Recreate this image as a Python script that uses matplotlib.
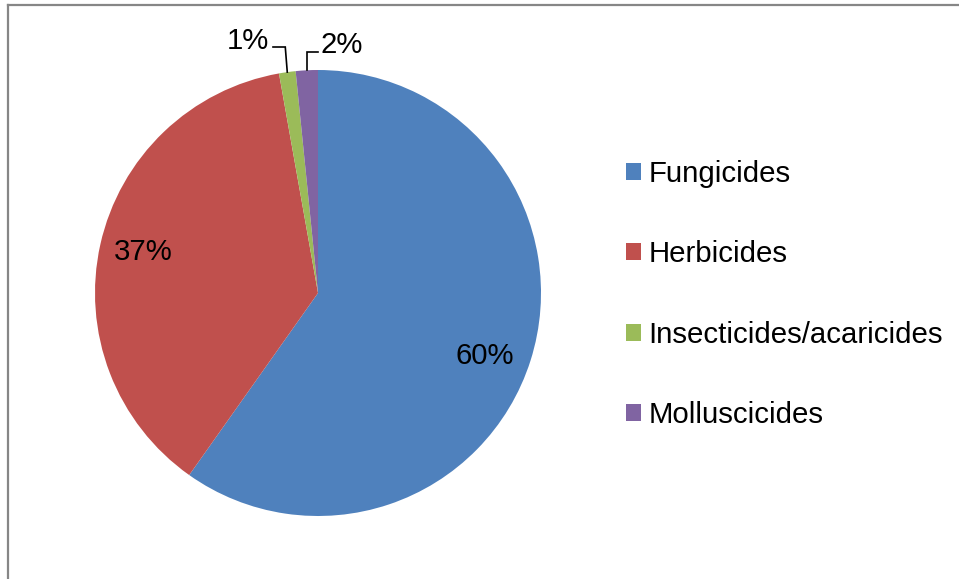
import numpy as np
import matplotlib
matplotlib.use("Agg")
import matplotlib.pyplot as plt
from matplotlib.lines import Line2D

categories = ["Fungicides", "Herbicides", "Insecticides/acaricides", "Molluscicides"]
values = [59.8, 37.4, 1.2, 1.6]
colors = ["#4F81BD", "#C0504D", "#9BBB59", "#8064A2"]

plt.rcParams['font.family'] = ['Liberation Sans', 'DejaVu Sans']
FS = 21.2

W, H = 959, 579
fig = plt.figure(figsize=(W / 100, H / 100), dpi=100)
cx, cy, R = 318, 293, 223
ax = fig.add_axes([(cx - R) / W, (H - cy - R) / H, 2 * R / W, 2 * R / H])

def pct_fmt(p):
    return "%.0f%%" % p if p >= 5 else ""

wedges, texts, autotexts = ax.pie(values, colors=colors, startangle=90, counterclock=False,
                                  autopct=pct_fmt, pctdistance=0.8, radius=1.0,
                                  wedgeprops=dict(linewidth=0),
                                  textprops=dict(fontsize=FS, color="black"))
ax.set_xlim(-1, 1)
ax.set_ylim(-1, 1)
ax.set_aspect("equal")
ax.axis("off")

px = 1.0 / R
# label placement as in the reference
autotexts[0].set_position(((485 - cx) * px, (cy - 356) * px))
autotexts[1].set_position(((143 - cx) * px, (cy - 252.5) * px))

def rim(w):
    a = np.deg2rad((w.theta1 + w.theta2) / 2)
    return np.cos(a), np.sin(a)

# 1%
rx, ry = rim(wedges[2])
ly = (cy - 47) * px
ax.text((269 - cx) * px, (cy - 41) * px, "%.0f%%" % values[2], fontsize=FS,
        ha="right", va="center")
ax.plot([(273 - cx) * px, rx - 2 * px, rx], [ly, ly, ry], color="black", lw=1.2,
        clip_on=False, solid_joinstyle="miter")
# 2%
rx, ry = rim(wedges[3])
ly = (cy - 52) * px
ax.text((321 - cx) * px, (cy - 45) * px, "%.0f%%" % values[3], fontsize=FS,
        ha="left", va="center")
ax.plot([rx, rx, (318 - cx) * px], [ry, ly, ly], color="black", lw=1.2,
        clip_on=False, solid_joinstyle="miter")

fig.legend(wedges, categories, loc="center left",
           bbox_to_anchor=(626 / W, 1 - 294.5 / H), frameon=False,
           fontsize=FS, handlelength=0.52, handleheight=0.52, handletextpad=0.25,
           labelspacing=1.78, borderpad=0, borderaxespad=0)

# chart border (partially cropped)
fig.add_artist(Line2D([7.5 / W, 1], [1 - 4.5 / H, 1 - 4.5 / H], color="#868686", lw=1.6,
                      transform=fig.transFigure))
fig.add_artist(Line2D([7.5 / W, 7.5 / W], [0, 1 - 4.5 / H], color="#868686", lw=1.6,
                      transform=fig.transFigure))

fig.savefig("out.png", dpi=100)
